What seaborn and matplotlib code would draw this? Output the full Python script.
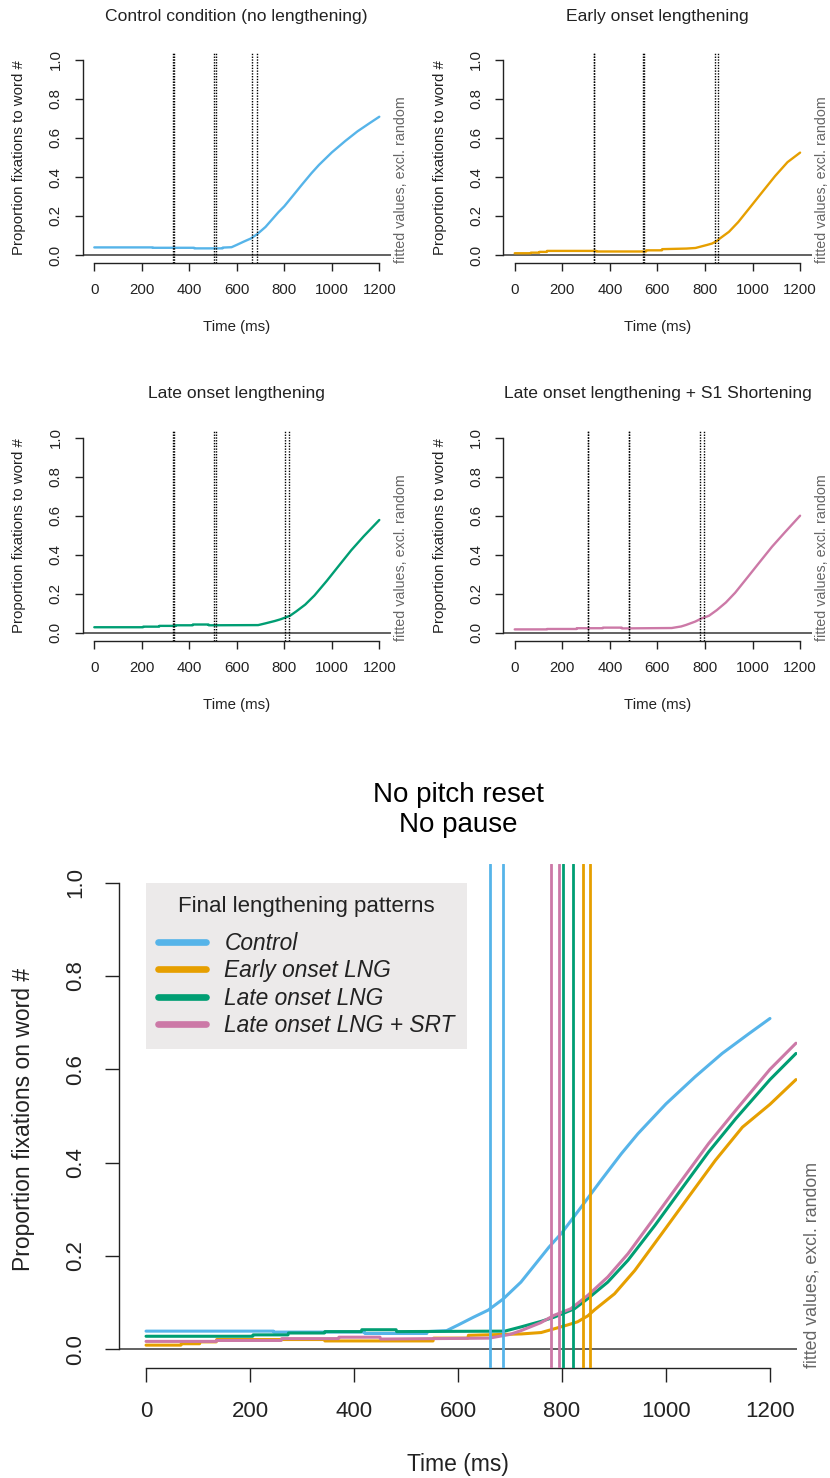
import matplotlib
matplotlib.use("Agg")
import matplotlib.pyplot as plt
from matplotlib.lines import Line2D
import numpy as np
import pandas as pd
import seaborn as sns

# ---------------------------------------------------------------- data
conditions = ["Control", "Early onset LNG", "Late onset LNG", "Late onset LNG + SRT"]
panel_titles = [
    "Control condition (no lengthening)",
    "Early onset lengthening",
    "Late onset lengthening",
    "Late onset lengthening + S1 Shortening",
]
colors = ["#56B4E9", "#E69F00", "#009E73", "#CC79A7"]

# fitted proportion of fixations over time (ms)
control_time = [0, 245, 246, 420, 421, 540, 541, 578, 600, 630, 658, 687, 721, 775,
                800, 837, 875, 914, 946, 1000, 1056, 1108, 1159, 1200]
control_prop = [0.039, 0.039, 0.037, 0.037, 0.034, 0.034, 0.038, 0.040, 0.052, 0.069,
                0.084, 0.108, 0.144, 0.219, 0.250, 0.305, 0.362, 0.419, 0.462, 0.526,
                0.584, 0.634, 0.676, 0.709]

early_time = [0, 67, 68, 103, 104, 135, 136, 343, 344, 552, 553, 619, 620, 722, 760,
              785, 810, 830, 850, 863, 901, 940, 992, 1043, 1095, 1147, 1200, 1250]
early_prop = [0.009, 0.009, 0.012, 0.012, 0.016, 0.016, 0.021, 0.021, 0.018, 0.018,
              0.024, 0.024, 0.030, 0.033, 0.036, 0.044, 0.052, 0.059, 0.072, 0.085,
              0.119, 0.169, 0.248, 0.326, 0.405, 0.476, 0.525, 0.578]

late_time = [0, 205, 206, 273, 274, 343, 344, 414, 415, 481, 482, 690, 721, 760, 785,
             824, 850, 888, 927, 979, 1030, 1082, 1134, 1200, 1250]
late_prop = [0.028, 0.028, 0.031, 0.031, 0.035, 0.035, 0.038, 0.038, 0.042, 0.042,
             0.038, 0.039, 0.048, 0.060, 0.069, 0.087, 0.109, 0.144, 0.191, 0.266,
             0.344, 0.423, 0.494, 0.578, 0.634]

srt_time = [0, 135, 136, 260, 261, 370, 371, 450, 451, 660, 700, 721, 759, 785, 817,
            850, 888, 927, 979, 1030, 1082, 1134, 1200, 1250]
srt_prop = [0.017, 0.017, 0.019, 0.019, 0.023, 0.023, 0.026, 0.026, 0.022, 0.024,
            0.032, 0.040, 0.057, 0.073, 0.087, 0.116, 0.155, 0.205, 0.284, 0.362,
            0.441, 0.512, 0.600, 0.656]

# word / syllable boundaries (ms), pairs give the range across items
control_bounds = [332, 335, 505, 512, 662, 686]
early_bounds = [332, 335, 538, 545, 841, 854]
late_bounds = [332, 335, 505, 512, 802, 821]
srt_bounds = [307, 310, 479, 482, 778, 795]

x_ticks = [0, 200, 400, 600, 800, 1000, 1200]
y_ticks = [0.0, 0.2, 0.4, 0.6, 0.8, 1.0]

series_time = [control_time, early_time, late_time, srt_time]
series_prop = [control_prop, early_prop, late_prop, srt_prop]
series_bounds = [control_bounds, early_bounds, late_bounds, srt_bounds]

frames = []
for cond, t, p in zip(conditions, series_time, series_prop):
    frames.append(pd.DataFrame({"condition": cond, "time": t, "prop": p}))
df = pd.concat(frames, ignore_index=True)

# ---------------------------------------------------------------- style
sns.set_style("ticks")
plt.rcParams["font.family"] = ["Liberation Sans", "DejaVu Sans"]
plt.rcParams["axes.linewidth"] = 1.0
ink = "#222222"

W, H = 830, 1478
fig = plt.figure(figsize=(W / 100, H / 100), dpi=100)


def add_axes_px(left, top, right, bottom):
    return fig.add_axes([left / W, 1 - bottom / H, (right - left) / W, (bottom - top) / H])


def style_axes(ax, tick_len, fs, pad):
    ax.set_xlim(-48, 1248)
    ax.set_ylim(-0.04, 1.04)
    sns.despine(ax=ax, top=True, right=True)
    ax.spines["left"].set_bounds(0, 1)
    ax.spines["bottom"].set_bounds(0, 1200)
    for s in ("left", "bottom"):
        ax.spines[s].set_color(ink)
    ax.set_xticks(x_ticks)
    ax.set_xticklabels([str(v) for v in x_ticks])
    ax.set_yticks(y_ticks)
    ax.set_yticklabels([f"{v:.1f}" for v in y_ticks])
    ax.tick_params(direction="out", length=tick_len, width=1.0, color=ink,
                   labelsize=fs, labelcolor=ink, pad=pad)
    for lab in ax.get_yticklabels():
        lab.set_rotation(90)
        lab.set_va("center")
    ax.axhline(0, color="#555555", lw=1.3, zorder=1)


# ---------------------------------------------------------------- four condition panels
panel_boxes = [
    (82.9, 52.2, 390.7, 262.8),
    (503.3, 52.2, 811.5, 262.8),
    (82.9, 429.9, 390.7, 640.5),
    (503.3, 429.9, 811.5, 640.5),
]

for i, (cond, title, col, bounds) in enumerate(zip(conditions, panel_titles, colors, series_bounds)):
    l, t, r, b = panel_boxes[i]
    ax = add_axes_px(l, t, r, b)
    sub = df[(df["condition"] == cond) & (df["time"] <= 1200)]
    sns.lineplot(data=sub, x="time", y="prop", color=col, lw=1.7,
                 estimator=None, sort=False, ax=ax, legend=False, zorder=3)
    for xb in bounds:
        ax.axvline(xb, color="black", lw=1.0, ls=(0, (1, 1)), zorder=4)
    style_axes(ax, tick_len=6, fs=10.8, pad=8.5)
    w_px, h_px = r - l, b - t
    ax.set_title(title, fontsize=12.6, color=ink, y=1 + 36 / h_px,
                 pad=0, va="center")
    ax.set_xlabel("Time (ms)", fontsize=10.8, color=ink, va="center")
    ax.xaxis.set_label_coords(0.5, -64 / h_px)
    ax.set_ylabel("Proportion fixations to word #", fontsize=10.8,
                  color=ink, va="center")
    ax.yaxis.set_label_coords(-63.6 / w_px, 0.5)
    ax.text(1 + 10.5 / w_px, 0.0, "fitted values, excl. random", transform=ax.transAxes,
            rotation=90, ha="center", va="bottom", fontsize=10.3, color="#666666")

# ---------------------------------------------------------------- combined panel
l, t, r, b = 119, 864, 797, 1368
ax = add_axes_px(l, t, r, b)
w_px, h_px = r - l, b - t
sns.lineplot(data=df, x="time", y="prop", hue="condition", hue_order=conditions,
             palette=colors, lw=2.2, estimator=None, sort=False, ax=ax,
             legend=False, zorder=3)
for col, bounds in zip(colors, series_bounds):
    for xb in bounds[-2:]:
        ax.axvline(xb, color=col, lw=2.0, zorder=4)
style_axes(ax, tick_len=10, fs=16, pad=13.5)
ax.set_xlim(-52, 1252)
ax.set_title("No pitch reset\nNo pause", fontsize=20, color="black",
             y=1 + 54 / h_px, pad=0, va="center", linespacing=1.2)
ax.set_xlabel("Time (ms)", fontsize=16.5, color=ink, va="center")
ax.xaxis.set_label_coords(0.5, -97 / h_px)
ax.set_ylabel("Proportion fixations on word #", fontsize=16.5, color=ink, va="center")
ax.yaxis.set_label_coords(-(119 - 23) / w_px, 0.5 - (1119 - 1116) / h_px)
ax.text(1 + 15 / w_px, 0.0, "fitted values, excl. random", transform=ax.transAxes,
        rotation=90, ha="center", va="bottom", fontsize=12.8, color="#666666")

handles = [Line2D([0], [0], color=c, lw=4.8, solid_capstyle="round") for c in colors]
leg = ax.legend(handles, conditions, title="Final lengthening patterns\n",
                loc="upper left", bbox_to_anchor=(145.7 / W, 1 - 883.3 / H),
                bbox_transform=fig.transFigure, frameon=True, fancybox=False,
                facecolor="#ECEAEA", edgecolor="none", framealpha=1.0,
                prop={"family": "Liberation Sans", "style": "italic", "size": 16.4},
                title_fontsize=16, handlelength=2.1, handletextpad=0.8,
                labelspacing=0.18, borderpad=0.55, borderaxespad=0)
leg.get_title().set_color(ink)
leg.get_title().set_linespacing(0.4)
for txt in leg.get_texts():
    txt.set_color(ink)

fig.savefig("out.png", dpi=100, facecolor="white")
